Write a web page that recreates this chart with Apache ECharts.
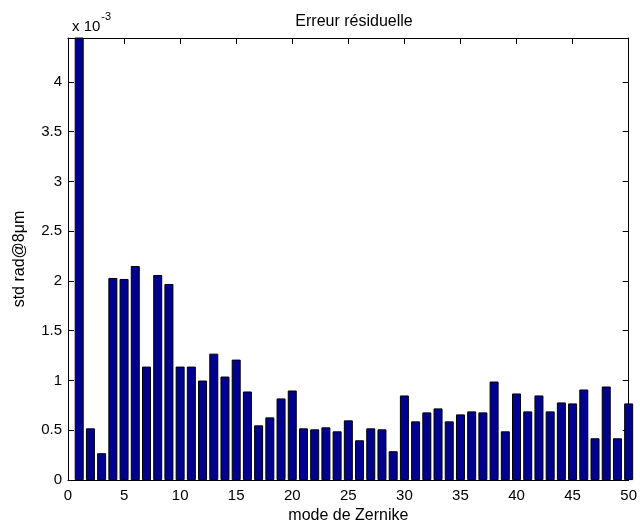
<!DOCTYPE html>
<html>
<head>
<meta charset="utf-8">
<script src="https://cdn.jsdelivr.net/npm/echarts@6/dist/echarts.min.js"></script>
<style>
  html, body { margin: 0; padding: 0; background: #ffffff; }
  #chart { width: 640px; height: 529px; }
</style>
</head>
<body>
<div id="chart"></div>
<script>
// Zernike mode numbers (x axis)
const modes = [1, 2, 3, 4, 5, 6, 7, 8, 9, 10,
  11, 12, 13, 14, 15, 16, 17, 18, 19, 20,
  21, 22, 23, 24, 25, 26, 27, 28, 29, 30,
  31, 32, 33, 34, 35, 36, 37, 38, 39, 40,
  41, 42, 43, 44, 45, 46, 47, 48, 49, 50];

// residual error per mode, in units of 10^-3 rad @ 8 µm
const residual = [4.90, 0.52, 0.27, 2.03, 2.02, 2.15, 1.14, 2.06, 1.97, 1.14,
  1.14, 1.00, 1.27, 1.04, 1.21, 0.89, 0.55, 0.63, 0.82, 0.90,
  0.52, 0.51, 0.53, 0.49, 0.60, 0.40, 0.52, 0.51, 0.29, 0.85,
  0.59, 0.68, 0.72, 0.59, 0.66, 0.69, 0.68, 0.99, 0.49, 0.87,
  0.69, 0.85, 0.69, 0.78, 0.77, 0.91, 0.42, 0.94, 0.42, 0.77];

const xTicks = [0, 5, 10, 15, 20, 25, 30, 35, 40, 45, 50];
const yTicks = [0, 0.5, 1, 1.5, 2, 2.5, 3, 3.5, 4];
const yMax = 4.44;
const scaleExponent = '-3';

const FONT = '"Liberation Sans", Arial, sans-serif';

const chart = echarts.init(document.getElementById('chart'), null, { renderer: 'canvas' });

const axisLine = { show: true, onZero: false, lineStyle: { color: '#000', width: 1 } };
const axisTick = { show: true, inside: true, length: 6, lineStyle: { color: '#000', width: 1 } };

chart.setOption({
  animation: false,
  backgroundColor: '#ffffff',
  title: [
    {
      text: 'Erreur résiduelle',
      left: 349, top: 9, textAlign: 'center',
      textStyle: { fontFamily: FONT, fontSize: 16, fontWeight: 'normal', color: '#000' }
    },
    {
      text: '{b|x 10}{s|' + scaleExponent + '}',
      left: 67, top: 6,
      textStyle: {
        fontWeight: 'normal',
        rich: {
          b: { fontFamily: FONT, fontSize: 15, fontWeight: 'normal', color: '#000', padding: [8, 0, 0, 0] },
          s: { fontFamily: FONT, fontSize: 11, fontWeight: 'normal', color: '#000', verticalAlign: 'top', padding: [0, 0, 8, 1] }
        }
      }
    }
  ],
  grid: { left: 68, right: 8, top: 38, bottom: 46, containLabel: false },
  xAxis: [
    {
      type: 'value', position: 'bottom', min: xTicks[0], max: xTicks[xTicks.length - 1], interval: 5,
      name: 'mode de Zernike', nameLocation: 'middle', nameGap: 27,
      nameTextStyle: { fontFamily: FONT, fontSize: 16, color: '#000' },
      axisLine, axisTick,
      axisLabel: { fontFamily: FONT, fontSize: 15, color: '#000', margin: 8 },
      splitLine: { show: false }
    },
    {
      type: 'value', position: 'top', min: xTicks[0], max: xTicks[xTicks.length - 1], interval: 5,
      axisLine, axisTick, axisLabel: { show: false }, splitLine: { show: false }
    }
  ],
  yAxis: [
    {
      type: 'value', position: 'left', min: yTicks[0], max: yMax, interval: 0.5,
      name: 'std rad@8μm', nameLocation: 'middle', nameGap: 40, nameRotate: 90,
      nameTextStyle: { fontFamily: FONT, fontSize: 16, color: '#000' },
      axisLine, axisTick,
      axisLabel: {
        fontFamily: FONT, fontSize: 15, color: '#000', margin: 6, showMaxLabel: false,
        formatter: v => (yTicks.includes(v) ? String(v) : '')
      },
      splitLine: { show: false }
    },
    {
      type: 'value', position: 'right', min: yTicks[0], max: yMax, interval: 0.5,
      axisLine, axisTick, axisLabel: { show: false }, splitLine: { show: false }
    }
  ],
  series: [
    {
      type: 'bar',
      xAxisIndex: 0, yAxisIndex: 0,
      data: modes.map((m, i) => [m, residual[i]]),
      barWidth: 9,
      clip: true,
      itemStyle: { color: '#00008f', borderColor: '#000', borderWidth: 1 }
    }
  ]
});
</script>
</body>
</html>
